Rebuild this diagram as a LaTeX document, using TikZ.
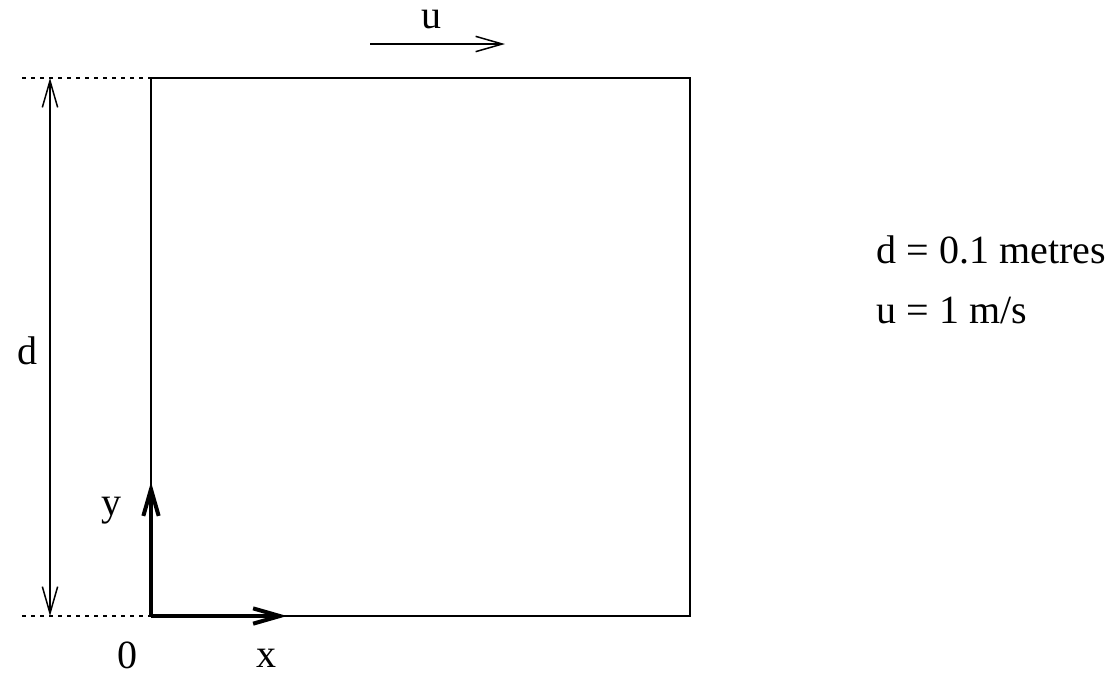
\documentclass[tikz,border=0pt]{standalone}
\usepackage{fontspec}
\setmainfont{Liberation Serif}
\usetikzlibrary{arrows.meta,positioning}

\begin{document}
\begin{tikzpicture}[x=0.3pt,y=-0.3pt,>={Straight Barb[length=8pt,width=4.6pt]},
                    font=\fontsize{12}{14}\selectfont]
\tikzstyle{wall}=[line width=0.6pt,draw=black]
\tikzstyle{guide}=[line width=0.4pt,dash pattern=on 1.3pt off 1.4pt]
\tikzstyle{dim}=[line width=0.45pt,<->]
\tikzstyle{axis}=[line width=1.2pt,->]
\tikzstyle{lbl}=[inner sep=0pt,anchor=base]
\tikzstyle{info}=[inner sep=0pt,anchor=base west]

\useasboundingbox (0,0) rectangle (1115,674);

\coordinate (origin) at (151,616);
\coordinate (topleft) at (151,78);
\coordinate (topright) at (690,78);
\coordinate (botright) at (690,616);
\coordinate (guide_top) at (22,78);
\coordinate (guide_bot) at (22,616);
\coordinate (dim_top) at (50,78);
\coordinate (dim_bot) at (50,616);
\coordinate (u_start) at (370,44);
\coordinate (u_end) at (505,44);
\coordinate (x_end) at (287,616);
\coordinate (y_end) at (151,482);

\draw[wall] (origin) -- (topleft) -- (topright) -- (botright) -- cycle;

\draw[guide] (guide_top) -- (topleft);
\draw[guide] (guide_bot) -- (origin);
\draw[dim] (dim_top) -- (dim_bot);

\draw[line width=0.45pt,->] (u_start) -- (u_end);
\draw[axis] (origin) -- (x_end);
\draw[axis] (origin) -- (y_end);

\node[lbl] (label_u) at (431,28) {u};
\node[lbl] (label_d) at (27,364) {d};
\node[lbl] (label_y) at (111,515) {y};
\node[lbl] (label_0) at (127,668) {0};
\node[lbl] (label_x) at (266,667) {x};

\node[info] (info_d) at (876,263) {d = 0.1 metres};
\node[info] (info_u) at (876,323) {u = 1 m/s};
\end{tikzpicture}
\end{document}
